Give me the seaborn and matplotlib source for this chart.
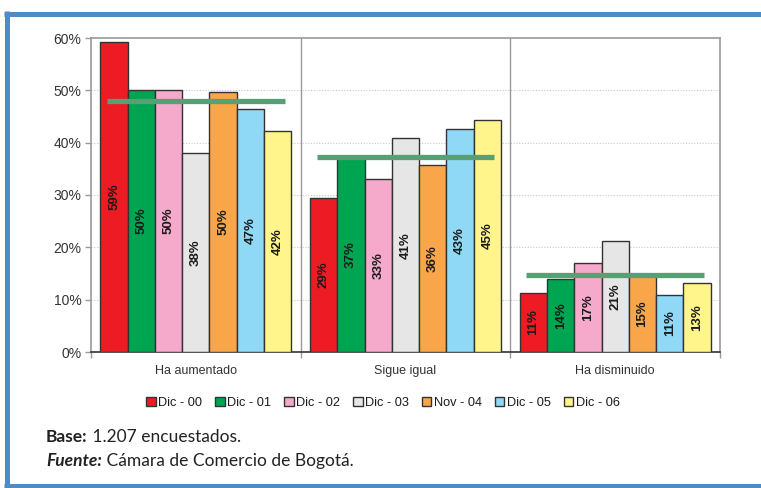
import matplotlib
matplotlib.use("Agg")
import matplotlib.pyplot as plt
from matplotlib.lines import Line2D
from matplotlib.patches import Patch
from matplotlib.text import Annotation
import pandas as pd
import seaborn as sns

# --- data ---
categories = ["Ha aumentado", "Sigue igual", "Ha disminuido"]
periods = ["Dic - 00", "Dic - 01", "Dic - 02", "Dic - 03", "Nov - 04", "Dic - 05", "Dic - 06"]
values = {
    "Dic - 00": [59.3, 29.4, 11.3],
    "Dic - 01": [50.0, 37.1, 14.0],
    "Dic - 02": [50.0, 33.1, 17.1],
    "Dic - 03": [38.0, 40.8, 21.2],
    "Nov - 04": [49.7, 35.7, 14.8],
    "Dic - 05": [46.5, 42.7, 10.9],
    "Dic - 06": [42.2, 44.4, 13.2],
}
labels = {
    "Dic - 00": ["59%", "29%", "11%"],
    "Dic - 01": ["50%", "37%", "14%"],
    "Dic - 02": ["50%", "33%", "17%"],
    "Dic - 03": ["38%", "41%", "21%"],
    "Nov - 04": ["50%", "36%", "15%"],
    "Dic - 05": ["47%", "43%", "11%"],
    "Dic - 06": ["42%", "45%", "13%"],
}
averages = [48.0, 37.3, 14.7]

colors = ["#ed1c24", "#00a551", "#f5a9cb", "#e6e6e6", "#f9a64a", "#8fd8f6", "#fff58a"]
avg_color = "#56a074"

rows = []
for p in periods:
    for c, v in zip(categories, values[p]):
        rows.append({"cat": c, "period": p, "value": v})
df = pd.DataFrame(rows)

sns.set_style("white")
plt.rcParams["font.family"] = ["Liberation Sans", "DejaVu Sans"]

fig = plt.figure(figsize=(7.61, 4.88), dpi=100)
ax = fig.add_axes([91 / 761, 1 - 352 / 488, 629 / 761, 314 / 488])

sns.barplot(
    data=df, x="cat", y="value", hue="period", order=categories, hue_order=periods,
    palette=colors, width=0.91, edgecolor="#333333", linewidth=1.0,
    saturation=1, legend=False, ax=ax, zorder=3,
)

# labels at the middle of each bar
for cont, p in zip(ax.containers, periods):
    ax.bar_label(cont, labels=labels[p], label_type="center", rotation=90,
                 fontsize=9.5, fontweight="bold", color="#1a1a1a")

# average lines per group
for i, a in enumerate(averages):
    ax.hlines(a, i - 0.424, i + 0.424, color=avg_color, lw=3.8, zorder=5)

ax.set_xlim(-0.5, 2.5)
ax.set_ylim(0, 60)
ax.set_yticks(range(0, 61, 10))
ax.set_yticklabels([f"{t}%" for t in range(0, 61, 10)])
ax.set_xlabel("")
ax.set_ylabel("")

for y in range(10, 60, 10):
    ax.axhline(y, color="#c8c8c8", lw=0.8, ls=(0, (1, 1.5)), zorder=1)
for x in [0.5, 1.5]:
    ax.axvline(x, color="#9a9a9a", lw=1.0, zorder=1)

for s in ["left", "right", "top"]:
    ax.spines[s].set_color("#9a9a9a")
    ax.spines[s].set_linewidth(1.2)
ax.spines["bottom"].set_color("#333333")
ax.spines["bottom"].set_linewidth(1.2)

ax.tick_params(axis="y", which="major", left=True, length=4, width=1, color="#9a9a9a",
               labelsize=10, labelcolor="#333333", pad=3)
ax.tick_params(axis="x", which="major", bottom=False, labelsize=9, labelcolor="#333333", pad=6)
ax.set_xticks([-0.5, 0.5, 1.5, 2.5], minor=True)
ax.tick_params(axis="x", which="minor", bottom=True, length=4, width=1, color="#9a9a9a")

# legend
handles = [Patch(facecolor=c, edgecolor="#333333", lw=1.0) for c in colors]
fig.legend(handles, periods, loc="center", bbox_to_anchor=(383 / 761, 1 - 403 / 488),
           ncol=7, frameon=False, fontsize=9.2, handlelength=0.75, handleheight=0.75,
           handletextpad=0.2, columnspacing=1.0, labelcolor="#1a1a1a")

# footer notes
foot_font = ["Lato", "DejaVu Sans"]
base_b = fig.text(46 / 761, 1 - 437 / 488, "Base:", fontsize=12.5, fontweight="bold",
                  family=foot_font, va="center", color="#222222")
fig.add_artist(Annotation(" 1.207 encuestados.", xy=(1, 0.5), xycoords=base_b, va="center",
                          fontsize=12.5, family=foot_font, color="#222222"))
fue = fig.text(46 / 761, 1 - 461 / 488, "Fuente:", fontsize=12.5, fontweight="bold",
               style="italic", family=foot_font, va="center", color="#222222")
fig.add_artist(Annotation(" Cámara de Comercio de Bogotá.", xy=(1, 0.5), xycoords=fue,
                          va="center", fontsize=12.5, family=foot_font, color="#222222"))

# blue frame (top, left, bottom)
frame_c = "#5189c7"
fig.add_artist(Line2D([4 / 761, 1], [1 - 13.5 / 488] * 2, color=frame_c, lw=3.6,
                      transform=fig.transFigure, solid_capstyle="butt"))
fig.add_artist(Line2D([6.5 / 761] * 2, [1 - 11 / 488, 0], color=frame_c, lw=3.6,
                      transform=fig.transFigure, solid_capstyle="butt"))
fig.add_artist(Line2D([4 / 761, 1], [1 - 485.5 / 488] * 2, color=frame_c, lw=3.6,
                      transform=fig.transFigure, solid_capstyle="butt"))

fig.savefig("out.png", dpi=100)
